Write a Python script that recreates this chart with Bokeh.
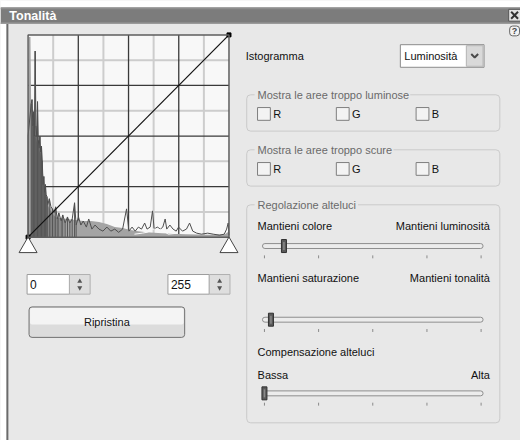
from bokeh.plotting import figure
from bokeh.models import Range1d
from bokeh.embed import file_html
from bokeh.resources import INLINE
from bokeh.core.properties import value

# ---------------- data ----------------
# Luminosity histogram: levels 0-255, counts as % of the histogram box height
dark_levels = [0, 4, 5, 6, 7, 8, 9, 10, 11, 12,
               13, 14, 15, 16, 17, 18, 19, 20, 21, 22,
               23, 24, 25, 27, 29, 31, 33, 35, 37, 39,
               42, 44, 47, 50, 53, 56, 59, 61, 64, 67,
               70, 74, 77, 81, 85, 90, 95, 100, 105, 110,
               115, 120, 125, 128, 132, 136, 140, 144, 148, 151,
               155, 158, 160, 164, 168, 171, 174, 176, 180, 184,
               188, 191, 196, 201, 205, 209, 214, 220, 228, 235,
               243, 249, 252, 254, 255]
dark_counts = [50, 66, 68, 55, 62, 50, 92, 55, 50, 67,
               48, 44, 50, 42, 45, 38, 26, 30, 22, 26,
               21, 20, 16, 19, 15, 14, 12, 15, 9, 12,
               8, 11, 7, 10, 7, 9, 17, 6, 10, 6,
               8, 5, 9, 4, 6, 4, 3, 5, 3, 4,
               2.4, 4, 14, 3, 5, 3, 5, 4, 7, 4,
               5, 13, 4, 5, 4, 5, 9, 4, 6, 4,
               3, 5, 3, 4, 7, 3, 2, 1.5, 2, 1.5,
               1, 1.5, 4, 7, 1]
light_levels = [0, 1, 3, 4, 6, 9, 12, 15, 18, 20,
                23, 26, 30, 35, 40, 50, 60, 70, 80, 90,
                100, 110, 120, 130, 140, 150, 170, 200, 230, 250, 255]
light_counts = [60, 99, 99, 62, 55, 50, 46, 42, 35, 28,
                20, 15, 12, 10, 9.5, 9, 8.5, 8, 8, 7.5,
                6.5, 5, 4.5, 3.5, 3, 2.5, 2, 1.5, 1.2, 1.5, 3]
white_levels = [135, 145, 152, 158, 166, 172, 178, 190]
white_counts = [1.5, 2, 2.5, 4, 4, 3, 1.5, 2]
curve_levels = [0, 255]          # identity curve (input -> output)
curve_output = [0, 100]
grid_divisions = 8
input_values = ["0", "255"]
slider_values = [9, 3, 0]        # % positions of the three sliders
slider_ticks = [0, 25, 50, 75, 100]
channels = ["R", "G", "B"]
title_text = "Tonalità"
histogram_label = "Istogramma"
combo_text = "Luminosità"
group_titles = ["Mostra le aree troppo luminose", "Mostra le aree troppo scure", "Regolazione alteluci"]
slider_left_labels = ["Mantieni colore", "Mantieni saturazione", "Bassa"]
slider_right_labels = ["Mantieni luminosità", "Mantieni tonalità", "Alta"]
compensation_label = "Compensazione alteluci"
button_text = "Ripristina"

# ---------------- layout (in pixels of the 528x448 dialog) ----------------
RW, RH = 528, 448            # dialog extent shown by the figure
W, H = 520, 440              # figure size (fits the window with its 8px margin)
BOX_L, BOX_R, BOX_T, BOX_B = 28, 232, 35, 241
LMAX, HMAX = 255, 100
SL_L, SL_R = 268, 488

FONT = value("Liberation Sans")
BG = "#e8e8e8"

p = figure(width=W, height=H, x_range=Range1d(0, RW), y_range=Range1d(RH, 0),
           output_backend="svg", toolbar_location=None, min_border=0,
           x_axis_location=None, y_axis_location=None)
p.grid.visible = False
p.outline_line_color = None
p.background_fill_color = BG
p.border_fill_color = "white"

sx = (BOX_R - BOX_L) / LMAX
sy = (BOX_B - BOX_T) / HMAX
ss = (SL_R - SL_L) / 100.0
p.extra_x_ranges = {
    "lev": Range1d((0 - BOX_L) / sx, (RW - BOX_L) / sx),
    "sl": Range1d((0 - SL_L) / ss, (RW - SL_L) / ss),
}
p.extra_y_ranges = {"cnt": Range1d((BOX_B - RH) / sy, (BOX_B - 0) / sy)}
H_KW = dict(x_range_name="lev", y_range_name="cnt")


def txt(x, y, t, align="left", color="#111111", size="11px", style="normal", **kw):
    p.text(x=x, y=y, text=t, text_align=align, text_baseline="middle",
           text_color=color, text_font=FONT, text_font_size=size,
           text_font_style=style, **kw)


# ---------------- window chrome ----------------
p.quad(left=0, right=RW, top=0, bottom=7, fill_color="white", line_color=None)
p.quad(left=0, right=6, top=0, bottom=RH, fill_color="white", line_color=None)
p.quad(left=0, right=RW, top=7, bottom=24, fill_color="#7c7c7c", line_color=None)
p.quad(left=0, right=RW, top=7, bottom=9, fill_color="#8e8e8e", line_color=None)
p.quad(left=0, right=RW, top=22.5, bottom=24, fill_color="#9a9a9a", line_color=None)
txt([9], [16], [title_text], color="white", size="12.5px", style="bold")
p.quad(left=6, right=8, top=24, bottom=RH, fill_color="#6a6a6a", line_color=None)
# close button
p.quad(left=516, right=528, top=9, bottom=21, fill_color="#e4e4e4", line_color="#555555")
p.segment(x0=[518.5, 518.5], y0=[11.5, 18.5], x1=[525.5, 525.5], y1=[18.5, 11.5],
          line_color="#333333", line_width=2)
# help icon
p.quad(left=517, right=527, top=26, bottom=36, fill_color="#f2f2f2", line_color="#666666",
       border_radius=3)
txt([522], [31], ["?"], align="center", color="#444444", size="9px", style="bold")

# ---------------- histogram box ----------------
p.quad(left=0, right=LMAX, bottom=0, top=HMAX, fill_color="#f8f8f8", line_color=None, **H_KW)
gl = [LMAX * k / grid_divisions for k in range(1, grid_divisions)]
gh = [HMAX * k / grid_divisions for k in range(1, grid_divisions)]
light_l = [v for k, v in enumerate(gl, 1) if k % 2]
light_h = [v for k, v in enumerate(gh, 1) if k % 2]
dark_l = [v for k, v in enumerate(gl, 1) if not k % 2]
dark_h = [v for k, v in enumerate(gh, 1) if not k % 2]
p.segment(x0=light_l, y0=[0] * len(light_l), x1=light_l, y1=[HMAX] * len(light_l),
          line_color="#cdcdcd", line_width=2, **H_KW)
p.segment(x0=[0] * len(light_h), y0=light_h, x1=[LMAX] * len(light_h), y1=light_h,
          line_color="#cdcdcd", line_width=2, **H_KW)
p.segment(x0=dark_l, y0=[0] * len(dark_l), x1=dark_l, y1=[HMAX] * len(dark_l),
          line_color="#3a3a3a", line_width=1.3, **H_KW)
p.segment(x0=[0] * len(dark_h), y0=dark_h, x1=[LMAX] * len(dark_h), y1=dark_h,
          line_color="#3a3a3a", line_width=1.3, **H_KW)

# histogram series
p.varea(x=light_levels, y1=[0] * len(light_levels), y2=light_counts,
        fill_color="#a4a4a4", **H_KW)
left_part = [i for i, l in enumerate(dark_levels) if l <= 62]
p.segment(x0=[dark_levels[i] for i in left_part], y0=[0] * len(left_part),
          x1=[dark_levels[i] for i in left_part], y1=[dark_counts[i] for i in left_part],
          line_color="#555555", line_width=1, **H_KW)
p.line(x=dark_levels, y=dark_counts, line_color="#4e4e4e", line_width=1, **H_KW)
p.line(x=white_levels, y=white_counts, line_color="#fbfbfb", line_width=1, **H_KW)

# identity curve
p.line(x=curve_levels, y=curve_output, line_color="#111111", line_width=1.2, **H_KW)
p.scatter(x=curve_levels, y=curve_output, marker="square", size=4,
          fill_color="black", line_color="black", **H_KW)
p.quad(left=0, right=LMAX, bottom=0, top=HMAX, fill_color=None,
       line_color="#5e5e5e", line_width=1.5, **H_KW)

# input / output triangles
p.scatter(x=[0, LMAX], y=[251.4, 251.4], marker="triangle", size=18,
          fill_color="white", line_color="#444444", line_width=1, x_range_name="lev")

# ---------------- spin boxes ----------------
for (l, r), t in zip([(27, 70), (170, 212)], input_values):
    p.quad(left=l, right=r, top=279, bottom=299, fill_color="white", line_color="#9c9c9c")
    p.quad(left=r, right=r + 21, top=279, bottom=299, fill_color="#dedede", line_color="#b0b0b0")
    cx = r + 10.5
    p.scatter(x=[cx], y=[286], marker="triangle", size=5, fill_color="#555555", line_color=None)
    p.scatter(x=[cx], y=[292.5], marker="inverted_triangle", size=5, fill_color="#555555",
              line_color=None)
    txt([l + 3], [289], [t], size="12px")

# reset button
p.quad(left=29, right=187, top=312, bottom=343, fill_color="#dcdcdc", line_color="#707070",
       border_radius=3)
p.quad(left=30, right=186, top=313, bottom=330, fill_color="#f4f4f4", line_color=None,
       border_radius=2)
txt([108], [327], [button_text], align="center")

# ---------------- right panel ----------------
txt([249], [56], [histogram_label])
p.quad(left=406, right=491, top=45, bottom=68, fill_color="white", line_color="#8c8c8c")
p.quad(left=473, right=490, top=46, bottom=67, fill_color="#d9d9d9", line_color="#b4b4b4")
p.line(x=[478, 481.5, 485], y=[54.5, 58, 54.5], line_color="#4a4a4a", line_width=2)
txt([410], [56], [combo_text])

# group boxes
boxes = [(96, 133), (152, 189), (208, 430)]
erase_right = [416, 399, 363]
for (top, bot), title, er in zip(boxes, group_titles, erase_right):
    p.quad(left=250, right=507, top=top, bottom=bot, fill_color=None, line_color="#cacaca",
           border_radius=4)
    p.quad(left=258, right=er, top=top - 3, bottom=top + 3, fill_color=BG, line_color=None)
    txt([261], [top], [title], color="#6a6a6a")

# check boxes
cb_x = [261, 341, 422]
for yc in [115.5, 171.5]:
    p.quad(left=cb_x, right=[x + 13 for x in cb_x], top=[yc - 6.5] * 3, bottom=[yc + 6.5] * 3,
           fill_color="#f3f3f3", line_color="#7e7e7e")
    txt([x + 16 for x in cb_x], [yc] * 3, channels)

# sliders
slider_y = [250, 325, 400]
for yc, v in zip(slider_y, slider_values):
    p.quad(left=266, right=490, top=yc - 2.5, bottom=yc + 2.5, fill_color="#ececec",
           line_color="#8e8e8e", border_radius=3)
    p.segment(x0=slider_ticks, y0=[yc + 9.5] * 5, x1=slider_ticks, y1=[yc + 12.5] * 5,
              line_color="#8a8a8a", line_width=1, x_range_name="sl")
    p.rect(x=[v], y=[yc], width=5, height=13, width_units="screen", height_units="screen",
           fill_color="#5a5a5a", line_color="#303030", x_range_name="sl")
    p.rect(x=[v], y=[yc], width=1.5, height=8, width_units="screen", height_units="screen",
           fill_color="#8a8a8a", line_color=None, x_range_name="sl")

label_y = [230, 283, 381]
txt([261] * 3, label_y, slider_left_labels)
txt([497] * 3, label_y, slider_right_labels, align="right")
txt([261], [358], [compensation_label])

open("out.html", "w").write(file_html(p, INLINE))
